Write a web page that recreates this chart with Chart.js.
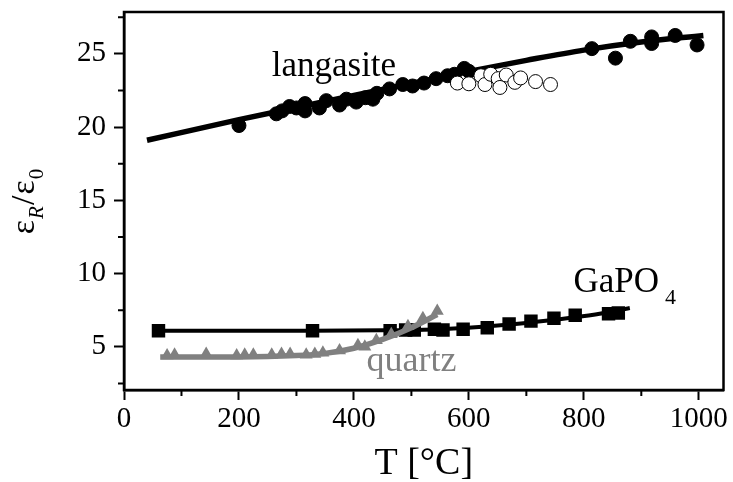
<!DOCTYPE html>
<html>
<head>
<meta charset="utf-8">
<script src="https://cdn.jsdelivr.net/npm/chart.js@4.4.0/dist/chart.umd.min.js"></script>
<style>
  html, body { margin: 0; padding: 0; background: #fff; }
  #wrap { width: 733px; height: 482px; }
</style>
</head>
<body>
<div id="wrap"><canvas id="chart"></canvas></div>
<script>
// langasite, filled circles
const langT   = [200, 265, 275, 288, 300, 315, 315, 340, 352, 375, 387, 404, 420, 433, 440, 462, 485, 502, 522, 543, 563, 575, 592, 600, 814, 855, 881, 918, 918, 959, 997];
const langEps = [20.1, 20.9, 21.1, 21.4, 21.3, 21.1, 21.6, 21.3, 21.8, 21.5, 21.9, 21.7, 22.0, 21.9, 22.3, 22.6, 22.9, 22.8, 23.0, 23.3, 23.5, 23.6, 24.0, 23.8, 25.35, 24.7, 25.85, 26.15, 25.7, 26.25, 25.6];
// langasite, open circles
const langOpenT   = [580, 600, 621, 628, 638, 651, 654, 665, 680, 690, 716, 742];
const langOpenEps = [23.0, 22.95, 23.5, 22.9, 23.6, 23.3, 22.7, 23.55, 23.05, 23.35, 23.1, 22.9];
// langasite fit
const langFitT   = [40, 200, 400, 600, 700, 800, 900, 1008];
const langFitEps = [19.1, 20.5, 22.15, 23.8, 24.55, 25.25, 25.8, 26.25];

// GaPO4
const gapoT   = [60, 328, 463, 490, 505, 540, 555, 590, 632, 670, 708, 748, 785, 843, 860];
const gapoEps = [6.1, 6.1, 6.1, 6.15, 6.15, 6.2, 6.15, 6.2, 6.3, 6.55, 6.75, 6.95, 7.15, 7.25, 7.3];
const gapoFitT   = [60, 300, 450, 550, 650, 750, 820, 880];
const gapoFitEps = [6.1, 6.1, 6.12, 6.2, 6.45, 6.85, 7.2, 7.65];

// quartz
const quartzT   = [75, 88, 143, 196, 210, 225, 257, 274, 289, 317, 332, 346, 375, 407, 419, 439, 465, 494, 520, 545];
const quartzEps = [4.4, 4.45, 4.5, 4.4, 4.45, 4.45, 4.45, 4.5, 4.5, 4.45, 4.5, 4.6, 4.75, 5.1, 5.0, 5.45, 5.85, 6.4, 6.95, 7.45];
const quartzFitT   = [63, 200, 300, 350, 400, 450, 500, 545];
const quartzFitEps = [4.3, 4.3, 4.4, 4.55, 4.9, 5.5, 6.3, 7.2];

const xTicks = [0, 100, 200, 300, 400, 500, 600, 700, 800, 900, 1000];
const yTicks = [2.5, 5, 7.5, 10, 12.5, 15, 17.5, 20, 22.5, 25, 27.5];

const FONT = "'Liberation Serif', 'DejaVu Serif', serif";
const GREY = '#808080';

function pts(xs, ys) { return xs.map((x, i) => ({ x: x, y: ys[i] })); }
function isMajorX(v) { return v % 200 === 0; }
function isMajorY(v) { return v % 5 === 0; }

// frame, minor ticks, labels
const decor = {
  id: 'decor',
  afterDraw(chart) {
    const ctx = chart.ctx, a = chart.chartArea;
    const xs = chart.scales.x, ys = chart.scales.y;
    ctx.save();
    ctx.strokeStyle = '#000';
    ctx.lineWidth = 2.5;
    ctx.strokeRect(a.left, a.top, a.right - a.left, a.bottom - a.top);

    // minor ticks
    ctx.lineWidth = 2;
    ctx.beginPath();
    xTicks.filter(v => !isMajorX(v)).forEach(v => {
      const px = xs.getPixelForValue(v);
      ctx.moveTo(px, a.bottom); ctx.lineTo(px, a.bottom + 6);
    });
    yTicks.filter(v => !isMajorY(v)).forEach(v => {
      const py = ys.getPixelForValue(v);
      ctx.moveTo(a.left, py); ctx.lineTo(a.left - 6, py);
    });
    ctx.stroke();

    // annotations
    ctx.textBaseline = 'alphabetic';
    ctx.textAlign = 'left';
    ctx.fillStyle = '#000';
    ctx.font = '35px ' + FONT;
    ctx.fillText('langasite', xs.getPixelForValue(257), ys.getPixelForValue(23.5));
    const gx = xs.getPixelForValue(782), gy = ys.getPixelForValue(8.75);
    ctx.fillText('GaPO', gx, gy);
    const gw = ctx.measureText('GaPO').width;
    ctx.font = '22px ' + FONT;
    ctx.fillText('4', gx + gw + 6, gy + 12);
    ctx.fillStyle = GREY;
    ctx.font = '36px ' + FONT;
    ctx.fillText('quartz', xs.getPixelForValue(422), ys.getPixelForValue(3.35));

    // x title
    ctx.fillStyle = '#000';
    ctx.textAlign = 'center';
    ctx.font = '38px ' + FONT;
    ctx.fillText('T [°C]', (a.left + a.right) / 2, 474);

    // y title: eps_R / eps_0
    ctx.translate(34, (a.top + a.bottom) / 2);
    ctx.rotate(-Math.PI / 2);
    ctx.textAlign = 'left';
    const big = '34px ' + FONT, small = '21px ' + FONT, smallIt = 'italic 21px ' + FONT;
    const parts = [
      { t: 'ε', f: big, dy: 0 },
      { t: 'R', f: smallIt, dy: 9 },
      { t: '/', f: big, dy: 0 },
      { t: 'ε', f: big, dy: 0 },
      { t: '0', f: small, dy: 9 }
    ];
    let total = 0;
    parts.forEach(p => { ctx.font = p.f; p.w = ctx.measureText(p.t).width + 1; total += p.w; });
    let cx = -total / 2;
    parts.forEach(p => { ctx.font = p.f; ctx.fillText(p.t, cx, p.dy); cx += p.w; });
    ctx.restore();
  }
};

new Chart(document.getElementById('chart'), {
  type: 'scatter',
  data: {
    datasets: [
      { label: 'quartz', data: pts(quartzT, quartzEps), order: 0,
        pointStyle: 'triangle', pointRadius: 7.5, pointHoverRadius: 7.5,
        backgroundColor: GREY, borderColor: GREY, borderWidth: 0 },
      { label: 'quartz fit', data: pts(quartzFitT, quartzFitEps), order: 1,
        showLine: true, pointRadius: 0, borderColor: GREY, borderWidth: 5.5,
        tension: 0.4, cubicInterpolationMode: 'monotone' },
      { label: 'GaPO4', data: pts(gapoT, gapoEps), order: 2,
        pointStyle: 'rect', pointRadius: 9.5, pointHoverRadius: 9.5,
        backgroundColor: '#000', borderColor: '#000', borderWidth: 0 },
      { label: 'GaPO4 fit', data: pts(gapoFitT, gapoFitEps), order: 3,
        showLine: true, pointRadius: 0, borderColor: '#000', borderWidth: 4,
        tension: 0.4, cubicInterpolationMode: 'monotone' },
      { label: 'langasite open', data: pts(langOpenT, langOpenEps), order: 4,
        pointStyle: 'circle', pointRadius: 7, pointHoverRadius: 7,
        backgroundColor: '#fff', borderColor: '#000', borderWidth: 1 },
      { label: 'langasite', data: pts(langT, langEps), order: 5,
        pointStyle: 'circle', pointRadius: 7, pointHoverRadius: 7,
        backgroundColor: '#000', borderColor: '#000', borderWidth: 1 },
      { label: 'langasite fit', data: pts(langFitT, langFitEps), order: 6,
        showLine: true, pointRadius: 0, borderColor: '#000', borderWidth: 5.5,
        tension: 0.4, cubicInterpolationMode: 'monotone' }
    ]
  },
  options: {
    responsive: true,
    maintainAspectRatio: false,
    animation: false,
    events: [],
    layout: { padding: { top: 12, right: 8, left: 0, bottom: 0 } },
    plugins: { legend: { display: false }, tooltip: { enabled: false } },
    scales: {
      x: {
        type: 'linear', min: 0, max: 1043,
        afterBuildTicks: s => { s.ticks = xTicks.map(v => ({ value: v })); },
        afterFit: s => { s.height = 92; s.paddingLeft = 0; s.paddingRight = 0; },
        grid: { drawOnChartArea: false, drawTicks: true, tickLength: 10, tickWidth: 2,
                tickColor: c => isMajorX(c.tick.value) ? '#000' : 'rgba(0,0,0,0)' },
        border: { display: true, color: '#000', width: 2.5 },
        ticks: { color: '#000', padding: 2, maxRotation: 0, autoSkip: false,
                 font: { family: FONT, size: 29 },
                 callback: v => isMajorX(v) ? String(v) : '' }
      },
      y: {
        type: 'linear', min: 2.05, max: 27.85,
        afterBuildTicks: s => { s.ticks = yTicks.map(v => ({ value: v })); },
        afterFit: s => { s.width = 124; s.paddingTop = 0; s.paddingBottom = 0; },
        grid: { drawOnChartArea: false, drawTicks: true, tickLength: 10, tickWidth: 2,
                tickColor: c => isMajorY(c.tick.value) ? '#000' : 'rgba(0,0,0,0)' },
        border: { display: true, color: '#000', width: 2.5 },
        ticks: { color: '#000', padding: 8, autoSkip: false,
                 font: { family: FONT, size: 29 },
                 callback: v => isMajorY(v) ? String(v) : '' }
      }
    }
  },
  plugins: [decor]
});
</script>
</body>
</html>
